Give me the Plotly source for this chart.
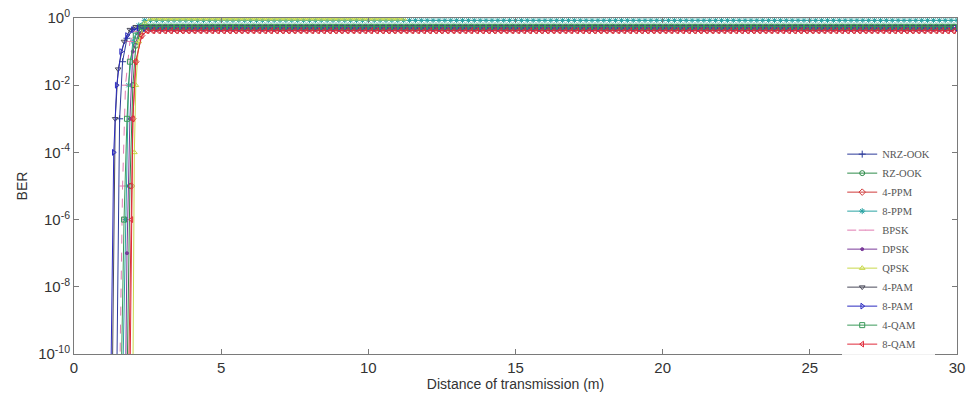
import numpy as np
import plotly.graph_objects as go

# ---- data ----
names = ["NRZ-OOK", "RZ-OOK", "4-PPM", "8-PPM", "BPSK", "DPSK",
         "QPSK", "4-PAM", "8-PAM", "4-QAM", "8-QAM"]

drop_x = {
    "NRZ-OOK": [1.45, 1.55, 1.65, 1.8, 2.0, 2.2],
    "RZ-OOK":  [1.8, 1.9, 2.0, 2.1, 2.3, 2.5],
    "4-PPM":   [1.85, 1.95, 2.0, 2.1, 2.3, 2.5],
    "8-PPM":   [1.65, 1.75, 1.85, 2.0, 2.2, 2.4],
    "BPSK":    [1.55, 1.65, 1.75, 1.9, 2.1, 2.3],
    "DPSK":    [1.75, 1.8, 1.9, 2.0, 2.2, 2.4],
    "QPSK":    [2.0, 2.05, 2.1, 2.2, 2.4, 2.6],
    "4-PAM":   [1.3, 1.4, 1.5, 1.7, 1.9, 2.1],
    "8-PAM":   [1.25, 1.35, 1.45, 1.6, 1.8, 2.0, 2.2],
    "4-QAM":   [1.6, 1.7, 1.8, 1.9, 2.1, 2.3],
    "8-QAM":   [1.9, 1.95, 2.0, 2.1, 2.3, 2.5],
}
drop_y = {
    "NRZ-OOK": [1e-11, 1e-3, 5e-2, 0.25, 0.45, 0.5],
    "RZ-OOK":  [1e-11, 1e-5, 1e-2, 0.15, 0.45, 0.55],
    "4-PPM":   [1e-11, 1e-5, 1e-3, 0.05, 0.3, 0.42],
    "8-PPM":   [1e-11, 1e-6, 1e-2, 0.2, 0.6, 0.85],
    "BPSK":    [1e-11, 1e-5, 1e-2, 0.2, 0.4, 0.5],
    "DPSK":    [1e-11, 1e-7, 1e-3, 0.1, 0.35, 0.45],
    "QPSK":    [1e-11, 1e-4, 1e-2, 0.2, 0.7, 0.95],
    "4-PAM":   [1e-11, 1e-3, 3e-2, 0.2, 0.45, 0.55],
    "8-PAM":   [1e-11, 1e-4, 1e-2, 0.1, 0.3, 0.45, 0.5],
    "4-QAM":   [1e-11, 1e-6, 1e-3, 5e-2, 0.3, 0.55],
    "8-QAM":   [1e-11, 1e-6, 1e-3, 0.05, 0.3, 0.42],
}
plateau = {"NRZ-OOK": 0.5, "RZ-OOK": 0.55, "4-PPM": 0.42, "8-PPM": 0.85,
           "BPSK": 0.5, "DPSK": 0.45, "QPSK": 0.95, "4-PAM": 0.55,
           "8-PAM": 0.5, "4-QAM": 0.55, "8-QAM": 0.42}
end_x = {n: 30 for n in names}
end_x["QPSK"] = 11.2

x_ticks = [0, 5, 10, 15, 20, 25, 30]
y_tickvals = [1, 1e-2, 1e-4, 1e-6, 1e-8, 1e-10]
y_ticktext = ["10<sup>0</sup>", "10<sup>-2</sup>", "10<sup>-4</sup>",
              "10<sup>-6</sup>", "10<sup>-8</sup>", "10<sup>-10</sup>"]

# ---- styles ----
styles = {
    "NRZ-OOK": dict(color="#2b3a9a", symbol="cross-thin-open", dash="solid"),
    "RZ-OOK":  dict(color="#2e8b4a", symbol="circle-open", dash="solid"),
    "4-PPM":   dict(color="#d03a3a", symbol="diamond-open", dash="solid"),
    "8-PPM":   dict(color="#2aa3a3", symbol="asterisk-open", dash="solid"),
    "BPSK":    dict(color="#e07ab0", symbol="line-ew-open", dash="dash"),
    "DPSK":    dict(color="#7a3a9a", symbol="circle", dash="solid"),
    "QPSK":    dict(color="#c8d84a", symbol="triangle-up-open", dash="solid"),
    "4-PAM":   dict(color="#4a4a5a", symbol="triangle-down-open", dash="solid"),
    "8-PAM":   dict(color="#2a2ac0", symbol="triangle-right-open", dash="solid"),
    "4-QAM":   dict(color="#3a9a5a", symbol="square-open", dash="solid"),
    "8-QAM":   dict(color="#e02a3a", symbol="triangle-left-open", dash="solid"),
}

fig = go.Figure()
for n in names:
    xs = list(drop_x[n])
    ys = list(drop_y[n])
    start = round(xs[-1] + 0.2, 1)
    px = [round(v, 1) for v in np.arange(start, end_x[n] + 1e-9, 0.2)]
    xs += px
    ys += [plateau[n]] * len(px)
    st = styles[n]
    fig.add_trace(go.Scatter(
        x=xs, y=ys, name=n, mode="lines+markers",
        line=dict(color=st["color"], width=1, dash=st["dash"]),
        marker=dict(symbol=st["symbol"], size=5 if st["symbol"] != "circle" else 3,
                    color=st["color"], line=dict(color=st["color"], width=1)),
    ))

axis_col = "#7a7a7a"
fig.update_layout(
    width=968, height=404,
    margin=dict(l=74, r=11, t=18, b=50, autoexpand=False),
    paper_bgcolor="white", plot_bgcolor="white",
    showlegend=True,
    legend=dict(x=0.87, y=0.638, xanchor="left", yanchor="top",
                bgcolor="rgba(255,255,255,0.9)", borderwidth=0,
                font=dict(family="Liberation Serif", size=10.5, color="#555"),
                itemwidth=30, tracegroupgap=0),
    font=dict(family="Liberation Sans", size=13, color="#333"),
)
fig.update_xaxes(
    range=[0, 30], tickvals=x_ticks, ticks="inside", ticklen=5,
    tickcolor=axis_col, showline=True, linecolor=axis_col, linewidth=1,
    mirror="ticks", showgrid=False, zeroline=False,
    title=dict(text="Distance of transmission (m)", standoff=4,
               font=dict(size=14, color="#333")),
    tickfont=dict(size=15, color="#333"),
)
fig.update_yaxes(
    type="log", range=[-10, 0], tickvals=y_tickvals, ticktext=y_ticktext,
    ticks="inside", ticklen=5, tickcolor=axis_col, showline=True,
    linecolor=axis_col, linewidth=1, mirror="ticks", showgrid=False,
    zeroline=False,
    title=dict(text="BER", standoff=7, font=dict(size=14, color="#333")),
    tickfont=dict(size=15, color="#333"),
)

fig.write_html("out.html")
